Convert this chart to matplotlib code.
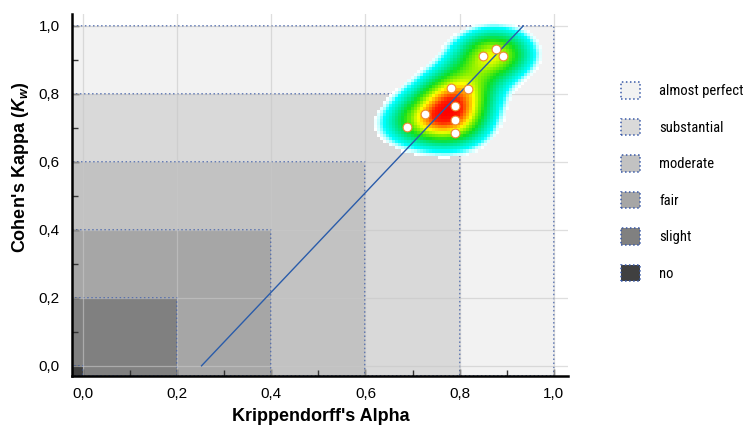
import matplotlib
matplotlib.use("Agg")
import matplotlib.pyplot as plt
import numpy as np
from matplotlib import font_manager
from matplotlib.patches import Rectangle, Patch
from matplotlib.colors import LinearSegmentedColormap
from matplotlib.ticker import FuncFormatter, MultipleLocator

plt.rcParams['font.family'] = ['Liberation Sans', 'DejaVu Sans']
plt.rcParams['mathtext.fontset'] = 'custom'
plt.rcParams['mathtext.it'] = 'Liberation Sans:bold:italic'
plt.rcParams['mathtext.rm'] = 'Liberation Sans:bold'

# agreement levels (upper bound of each band) and colours
levels = ['no', 'slight', 'fair', 'moderate', 'substantial', 'almost perfect']
bounds = [0.0, 0.2, 0.4, 0.6, 0.8, 1.0]
shades = ['#404040', '#808080', '#a6a6a6', '#c2c2c2', '#d9d9d9', '#f2f2f2']

# observed pairs (Krippendorff alpha, Cohen kappa_w)
alpha = [0.850, 0.877, 0.893, 0.781, 0.818, 0.790, 0.726, 0.790, 0.689, 0.790]
kappa = [0.912, 0.932, 0.912, 0.818, 0.815, 0.764, 0.740, 0.724, 0.702, 0.685]

# fitted line end points
fit_x = [0.252, 0.935]
fit_y = [0.0, 1.0]

xmin, xmax = -0.023, 1.03
ymin, ymax = -0.03, 1.035

# a narrow face for the legend if one is around
names = {f.name for f in font_manager.fontManager.ttflist}
narrow = None
for cand in ['Roboto Condensed', 'Liberation Sans Narrow', 'Open Sans Condensed',
             'DejaVu Sans Condensed', 'Arial Narrow']:
    if cand in names:
        narrow = {'family': [cand, 'DejaVu Sans'], 'size': 10.5}
        break
if narrow is None:
    cond = [f for f in font_manager.fontManager.ttflist
            if f.name == 'DejaVu Sans' and 'condensed' in str(f.stretch)]
    if cond:
        narrow = {'family': 'DejaVu Sans', 'stretch': 'condensed', 'size': 9.5}
    else:
        narrow = {'family': ['Liberation Sans', 'DejaVu Sans'], 'size': 8.5}

fig = plt.figure(figsize=(7.5, 4.36), dpi=100)
ax = fig.add_axes([72 / 750, 1 - 376 / 436, (568 - 72) / 750, (376 - 14) / 436])

border = '#3a5aa8'
for b, c in reversed(list(zip(bounds, shades))):
    ax.add_patch(Rectangle((xmin, ymin), b - xmin, b - ymin, facecolor=c,
                           edgecolor=border, linestyle=':', lw=1.1, zorder=1))

for v in bounds:
    ax.axvline(v, color='#c8c8c8', alpha=0.6, lw=0.9, zorder=2)
    ax.axhline(v, color='#c8c8c8', alpha=0.6, lw=0.9, zorder=2)

# density map of the points
gx = np.arange(0.55, 1.06, 0.0065)
gy = np.arange(0.56, 1.07, 0.009)
GX, GY = np.meshgrid(gx, gy)
dens = np.zeros_like(GX)
for a, k in zip(alpha, kappa):
    dens += np.exp(-((GX - a) ** 2 / (2 * 0.06 ** 2) + (GY - k) ** 2 / (2 * 0.055 ** 2)))
thr = 0.72
top = dens.max()
dens = np.ma.masked_less(dens, thr)
cmap = LinearSegmentedColormap.from_list('heat', [
    (0.0, '#ffffff'), (0.05, '#c0ffff'), (0.12, '#00ffff'), (0.3, '#00e890'),
    (0.45, '#10e020'), (0.58, '#80f000'), (0.7, '#ffff00'), (0.82, '#ff9000'),
    (0.92, '#ff2000'), (1.0, '#ff0000')])
ax.imshow(dens, extent=(gx[0] - 0.00325, gx[-1] + 0.00325, gy[0] - 0.0045, gy[-1] + 0.0045),
          origin='lower', cmap=cmap, vmin=thr, vmax=top, interpolation='nearest',
          aspect='auto', zorder=3)

ax.plot(fit_x, fit_y, color='#2a5caa', lw=1.0, zorder=4)
ax.scatter(alpha, kappa, s=40, facecolor='white', edgecolor='#f08a30', lw=0.8, zorder=5)

ax.set_xlim(xmin, xmax)
ax.set_ylim(ymin, ymax)
for s in ['top', 'right']:
    ax.spines[s].set_visible(False)
for s in ['left', 'bottom']:
    ax.spines[s].set_linewidth(1.8)
    ax.spines[s].set_zorder(6)

fmt = FuncFormatter(lambda v, p: f"{v:.1f}".replace('.', ','))
for axis in (ax.xaxis, ax.yaxis):
    axis.set_major_locator(MultipleLocator(0.2))
    axis.set_minor_locator(MultipleLocator(0.1))
    axis.set_major_formatter(fmt)
ax.tick_params(which='both', direction='in', labelsize=11, width=1, color='#333333')
ax.tick_params(which='major', length=5)
ax.tick_params(which='minor', length=4)
ax.tick_params(axis='y', pad=9)
ax.tick_params(axis='x', pad=8)

ax.set_xlabel("Krippendorff's Alpha", fontsize=13, fontweight='bold')
ax.set_ylabel("Cohen's Kappa ($K_w$)", fontsize=13, fontweight='bold')
ax.xaxis.set_label_coords(0.502, -0.088)
ax.yaxis.set_label_coords(-0.083, 0.577)

handles = [Patch(facecolor=c, edgecolor=border, linestyle=':', lw=1.1) for c in reversed(shades)]
fs = narrow['size']
px = fs * 100 / 72
fig.legend(handles, list(reversed(levels)), loc='upper left',
           bbox_to_anchor=(621 / 750, 1 - 82 / 436), frameon=False, borderpad=0,
           borderaxespad=0, handlelength=19 / px, handleheight=20 / px,
           handletextpad=19 / px, labelspacing=20 / px,
           prop=narrow)

fig.savefig('out.png', dpi=100)
